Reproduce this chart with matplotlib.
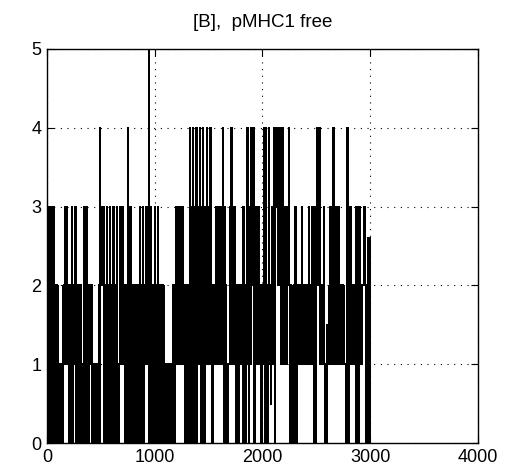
import numpy as np
import matplotlib
matplotlib.use("Agg")
import matplotlib.pyplot as plt

plt.rcParams['font.family'] = ['Liberation Sans', 'DejaVu Sans']

# free pMHC1 count, sampled every 5 time units (one row = 100 time units)
dt = 5
n_free = [
    0, 2, 0, 2, 3, 0, 2, 0, 3, 0, 2, 0, 2, 3, 0, 2, 0, 2, 0, 2,
    0, 1, 0, 1, 0, 1, 0, 1, 0, 1, 2, 1, 2, 3, 1, 2, 1, 3, 1, 2,
    0, 2, 0, 1, 2, 1, 3, 0, 2, 1, 2, 3, 2, 3, 0, 2, 0, 2, 0, 2,
    0, 2, 0, 2, 0, 1, 0, 1, 0, 3, 0, 3, 2, 3, 0, 2, 0, 2, 0, 2,
    1, 2, 1, 2, 0, 1, 0, 1, 0, 1, 0, 1, 0, 1, 0, 1, 2, 0, 4, 3,
    2, 3, 2, 3, 2, 3, 0, 2, 0, 2, 0, 3, 0, 2, 0, 2, 0, 3, 0, 2,
    0, 2, 0, 3, 0, 2, 0, 2, 0, 3, 0, 1, 0, 1, 1, 2, 3, 2, 1, 2,
    1, 3, 1, 2, 0, 2, 0, 2, 0, 2, 4, 0, 3, 0, 3, 0, 3, 0, 2, 0,
    2, 0, 2, 0, 2, 0, 2, 0, 2, 0, 2, 0, 3, 0, 2, 0, 2, 0, 3, 0,
    1, 2, 1, 2, 3, 1, 2, 1, 2, 5, 0, 2, 0, 3, 0, 2, 0, 2, 0, 2,
    3, 0, 2, 0, 2, 0, 3, 0, 2, 1, 2, 0, 2, 0, 2, 1, 2, 0, 1, 0,
    1, 0, 1, 0, 1, 0, 1, 0, 1, 0, 1, 0, 1, 2, 0, 2, 0, 2, 1, 3,
    1, 3, 1, 3, 1, 3, 1, 3, 1, 3, 1, 3, 1, 2, 1, 2, 0, 2, 1, 2,
    0, 2, 1, 2, 0, 4, 0, 2, 1, 3, 0, 4, 1, 2, 0, 3, 1, 4, 0, 2,
    1, 3, 1, 4, 1, 3, 0, 3, 1, 4, 1, 3, 0, 3, 1, 3, 4, 1, 3, 1,
    2, 1, 4, 1, 4, 2, 1, 0, 2, 1, 2, 1, 2, 1, 3, 1, 3, 1, 3, 1,
    3, 1, 3, 1, 3, 1, 4, 1, 3, 0, 3, 0, 2, 0, 1, 0, 1, 1, 1, 2,
    3, 4, 3, 4, 1, 3, 1, 3, 1, 3, 1, 0, 2, 1, 2, 1, 0, 2, 1, 2,
    1, 2, 1, 0, 3, 1, 2, 1, 0, 2, 1, 2, 4, 1, 3, 0, 3, 1, 4, 3,
    2, 3, 4, 3, 4, 0, 3, 1, 2, 3, 2, 3, 1, 3, 1, 2, 1, 2, 0, 2,
    1, 2, 1, 4, 0, 4, 1, 2, 1, 0, 2, 1, 4, 1, 2, 0.5, 2, 1, 3, 1,
    3, 1, 4, 0, 4, 3, 4, 3, 4, 2, 3, 4, 3, 4, 3, 1, 3, 1, 4, 1,
    3, 1, 3, 1, 3, 1, 3, 2, 3, 4, 0, 2, 1, 2, 1, 0, 1, 2, 1, 2,
    0, 3, 0, 2, 0, 2, 1, 2, 1, 2, 1, 2, 1, 3, 1, 2, 1, 2, 1, 2,
    1, 2, 1, 2, 1, 2, 3, 1, 2, 1, 2, 1, 3, 1, 2, 0, 2, 0, 3, 0,
    3, 4, 2, 4, 3.5, 4, 3.5, 1, 1, 2, 1, 1, 2, 1, 3, 0, 1, 0, 1, 0,
    1.5, 1, 1.5, 1, 2, 1, 3, 1, 3, 1, 3, 4, 1, 3, 1, 3, 2, 1, 2, 1,
    3, 2, 3, 1, 2, 1, 2, 1, 2, 1, 2, 1, 1, 1, 0, 1, 4, 0, 4, 0,
    1, 2, 1, 3, 1, 2, 1, 2, 1, 2, 1, 2, 1, 0, 3, 0, 3, 0, 3, 0,
    3, 1, 2, 1, 2, 2, 2, 2, 3, 2, 3, 2, 0, 2, 0, 2.6, 0, 2.6, 0, 2.6,
    0,
]
t = np.arange(len(n_free)) * dt

fig = plt.figure(figsize=(5.09, 4.76), dpi=100)
ax = fig.add_axes([0.0923, 0.0693, 0.8468, 0.8278])

ax.plot(t, n_free, color='k', linewidth=0.6, drawstyle='steps-post', antialiased=False)

ax.set_xlim(0, 4000)
ax.set_ylim(0, 5)
ax.set_xticks([0, 1000, 2000, 3000, 4000])
ax.set_yticks([0, 1, 2, 3, 4, 5])
ax.grid(True, color='k', linestyle=(0, (1, 5)), linewidth=0.8)
ax.set_axisbelow(True)
ax.tick_params(direction='in', length=5, top=True, right=True, labelsize=13, pad=4)
for s in ax.spines.values():
    s.set_linewidth(1.0)

ax.set_title('[B],  pMHC1 free', fontsize=13.5, pad=16)

fig.savefig('out.png', dpi=100)
